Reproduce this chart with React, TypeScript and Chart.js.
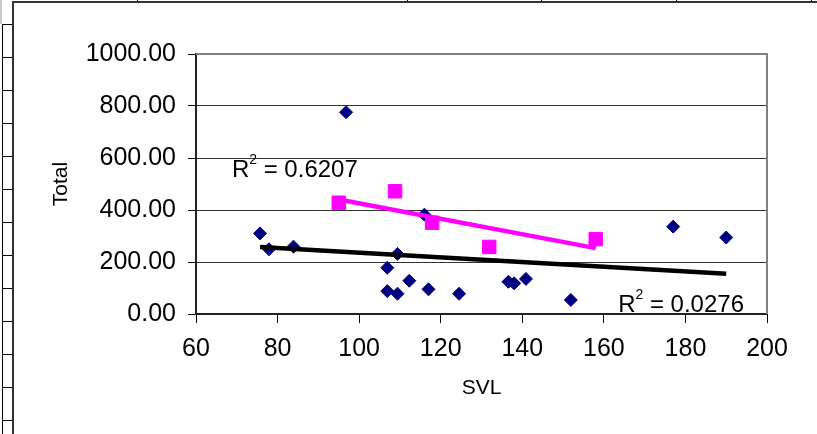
import React, { useEffect, useRef } from "react";
import { Chart, registerables } from "chart.js";

Chart.register(...registerables);

// ---- data ----
const blueSVL = [75.7, 77.9, 83.9, 96.8, 106.9, 106.9, 109.4, 109.4, 112.3, 116, 117, 124.5, 136.6, 138, 140.9, 151.9, 177, 190];
const blueTotal = [310, 249, 259, 776, 178, 88, 231, 78, 128, 382, 95, 78, 124, 118, 135, 54, 336, 294];
const pinkSVL = [95, 108.8, 117.9, 131.9, 158];
const pinkTotal = [428, 472, 351, 258, 288];
const r2Values = ["0.6207", "0.0276"];
const xRange = [60, 200, 20];
const yRange = [0, 1000, 200];
const xTitle = "SVL";
const yTitle = "Total";

const FONT = "Arial, 'Liberation Sans', sans-serif";
const BLUE = "#000080";
const PINK = "#FF00FF";

function linearFit(xs: number[], ys: number[]) {
  const n = xs.length;
  const mx = xs.reduce((a, b) => a + b, 0) / n;
  const my = ys.reduce((a, b) => a + b, 0) / n;
  let sxy = 0, sxx = 0;
  for (let i = 0; i < n; i++) {
    sxy += (xs[i] - mx) * (ys[i] - my);
    sxx += (xs[i] - mx) * (xs[i] - mx);
  }
  const m = sxy / sxx;
  const b = my - m * mx;
  const lo = Math.min(...xs), hi = Math.max(...xs);
  return [{ x: lo, y: m * lo + b }, { x: hi, y: m * hi + b }];
}

const toPoints = (xs: number[], ys: number[]) => xs.map((x, i) => ({ x, y: ys[i] }));

const framePlugin = {
  id: "frame",
  beforeDraw(chart: any) {
    const ctx = chart.ctx;
    const W = chart.width, H = chart.height;
    ctx.save();
    ctx.fillStyle = "#ffffff";
    ctx.fillRect(0, 0, W, H);
    ctx.fillStyle = "#c8c8c8";
    ctx.fillRect(0, 0, 2, 24);
    ctx.strokeStyle = "#000";
    ctx.lineWidth = 1;
    ctx.beginPath();
    ctx.moveTo(2.5, 24);
    ctx.lineTo(2.5, H);
    for (let y = 24; y < H; y += 33) {
      ctx.moveTo(2, y + 0.5);
      ctx.lineTo(12, y + 0.5);
    }
    for (const x of [137, 407, 541, 676, 811]) {
      ctx.moveTo(x + 0.5, 0);
      ctx.lineTo(x + 0.5, 1.5);
    }
    ctx.stroke();
    ctx.strokeStyle = "#333";
    ctx.lineWidth = 2;
    ctx.beginPath();
    ctx.moveTo(13, H);
    ctx.lineTo(13, 2);
    ctx.lineTo(W, 2);
    ctx.stroke();
    ctx.restore();
  },
  beforeDatasetsDraw(chart: any) {
    const { ctx, chartArea: a } = chart;
    ctx.save();
    ctx.strokeStyle = "#808080";
    ctx.lineWidth = 2;
    ctx.beginPath();
    ctx.moveTo(a.left, a.top);
    ctx.lineTo(a.right, a.top);
    ctx.lineTo(a.right, a.bottom);
    ctx.stroke();
    ctx.restore();
  },
  afterDatasetsDraw(chart: any) {
    const { ctx, scales } = chart;
    const anchors = [
      { x: 68.8, y: 527 },
      { x: 163.5, y: 7.7 },
    ];
    ctx.save();
    ctx.fillStyle = "#000";
    ctx.textBaseline = "alphabetic";
    ctx.textAlign = "left";
    anchors.forEach((p, i) => {
      let px = scales.x.getPixelForValue(p.x);
      const py = scales.y.getPixelForValue(p.y);
      ctx.font = `24px ${FONT}`;
      ctx.fillText("R", px, py);
      px += ctx.measureText("R").width;
      ctx.font = `14px ${FONT}`;
      ctx.fillText("2", px, py - 13);
      px += ctx.measureText("2").width;
      ctx.font = `24px ${FONT}`;
      ctx.fillText(" = " + r2Values[i], px, py);
    });
    ctx.restore();
  },
};

export default function App() {
  const ref = useRef<HTMLCanvasElement | null>(null);

  useEffect(() => {
    if (!ref.current) return;
    const chart = new Chart(ref.current, {
      type: "scatter",
      data: {
        datasets: [
          {
            type: "line",
            data: linearFit(pinkSVL, pinkTotal),
            borderColor: PINK,
            borderWidth: 4.5,
            pointRadius: 0,
            fill: false,
          } as any,
          {
            type: "line",
            data: linearFit(blueSVL, blueTotal),
            borderColor: "#000",
            borderWidth: 4.5,
            pointRadius: 0,
            fill: false,
          } as any,
          {
            data: toPoints(pinkSVL, pinkTotal),
            pointStyle: "rect",
            pointRadius: 9.5,
            backgroundColor: PINK,
            borderColor: PINK,
            borderWidth: 1,
          },
          {
            data: toPoints(blueSVL, blueTotal),
            pointStyle: "rectRot",
            pointRadius: 6.5,
            backgroundColor: BLUE,
            borderColor: BLUE,
            borderWidth: 1,
          },
        ],
      },
      options: {
        animation: false,
        responsive: false,
        events: [],
        layout: { padding: { left: 0, top: 54, right: 50, bottom: 0 } },
        plugins: { legend: { display: false }, tooltip: { enabled: false } },
        scales: {
          x: {
            type: "linear",
            min: xRange[0],
            max: xRange[1],
            afterFit: (s: any) => { s.height = 120; },
            ticks: {
              stepSize: xRange[2],
              color: "#000",
              padding: 11,
              font: { family: FONT, size: 25 },
              maxRotation: 0,
            },
            grid: {
              drawOnChartArea: false,
              drawTicks: true,
              tickLength: 9,
              tickColor: "#000",
              tickWidth: 1,
            },
            border: { display: true, color: "#222", width: 2 },
            title: {
              display: true,
              text: xTitle,
              color: "#000",
              font: { family: FONT, size: 21 },
              padding: { top: 0, bottom: 33 },
            },
          },
          y: {
            type: "linear",
            min: yRange[0],
            max: yRange[1],
            afterFit: (s: any) => { s.width = 196; },
            ticks: {
              stepSize: yRange[2],
              color: "#000",
              padding: 12,
              font: { family: FONT, size: 25 },
              callback: (v: any) => Number(v).toFixed(2),
            },
            grid: {
              color: (c: any) =>
                c.tick && (c.tick.value === yRange[0] || c.tick.value === yRange[1]) ? "rgba(0,0,0,0)" : "#333",
              lineWidth: 1,
              drawTicks: true,
              tickLength: 8,
              tickColor: "#000",
              tickWidth: 1,
            },
            border: { display: true, color: "#222", width: 2 },
            title: {
              display: true,
              text: yTitle,
              color: "#000",
              font: { family: FONT, size: 21 },
              padding: { top: 49, bottom: 0 },
            },
          },
        },
      },
      plugins: [framePlugin],
    } as any);
    return () => chart.destroy();
  }, []);

  return (
    <div style={{ position: "absolute", left: 0, top: 0, width: 817, height: 434, background: "#fff" }}>
      <canvas ref={ref} width={817} height={434} style={{ display: "block" }} />
    </div>
  );
}
